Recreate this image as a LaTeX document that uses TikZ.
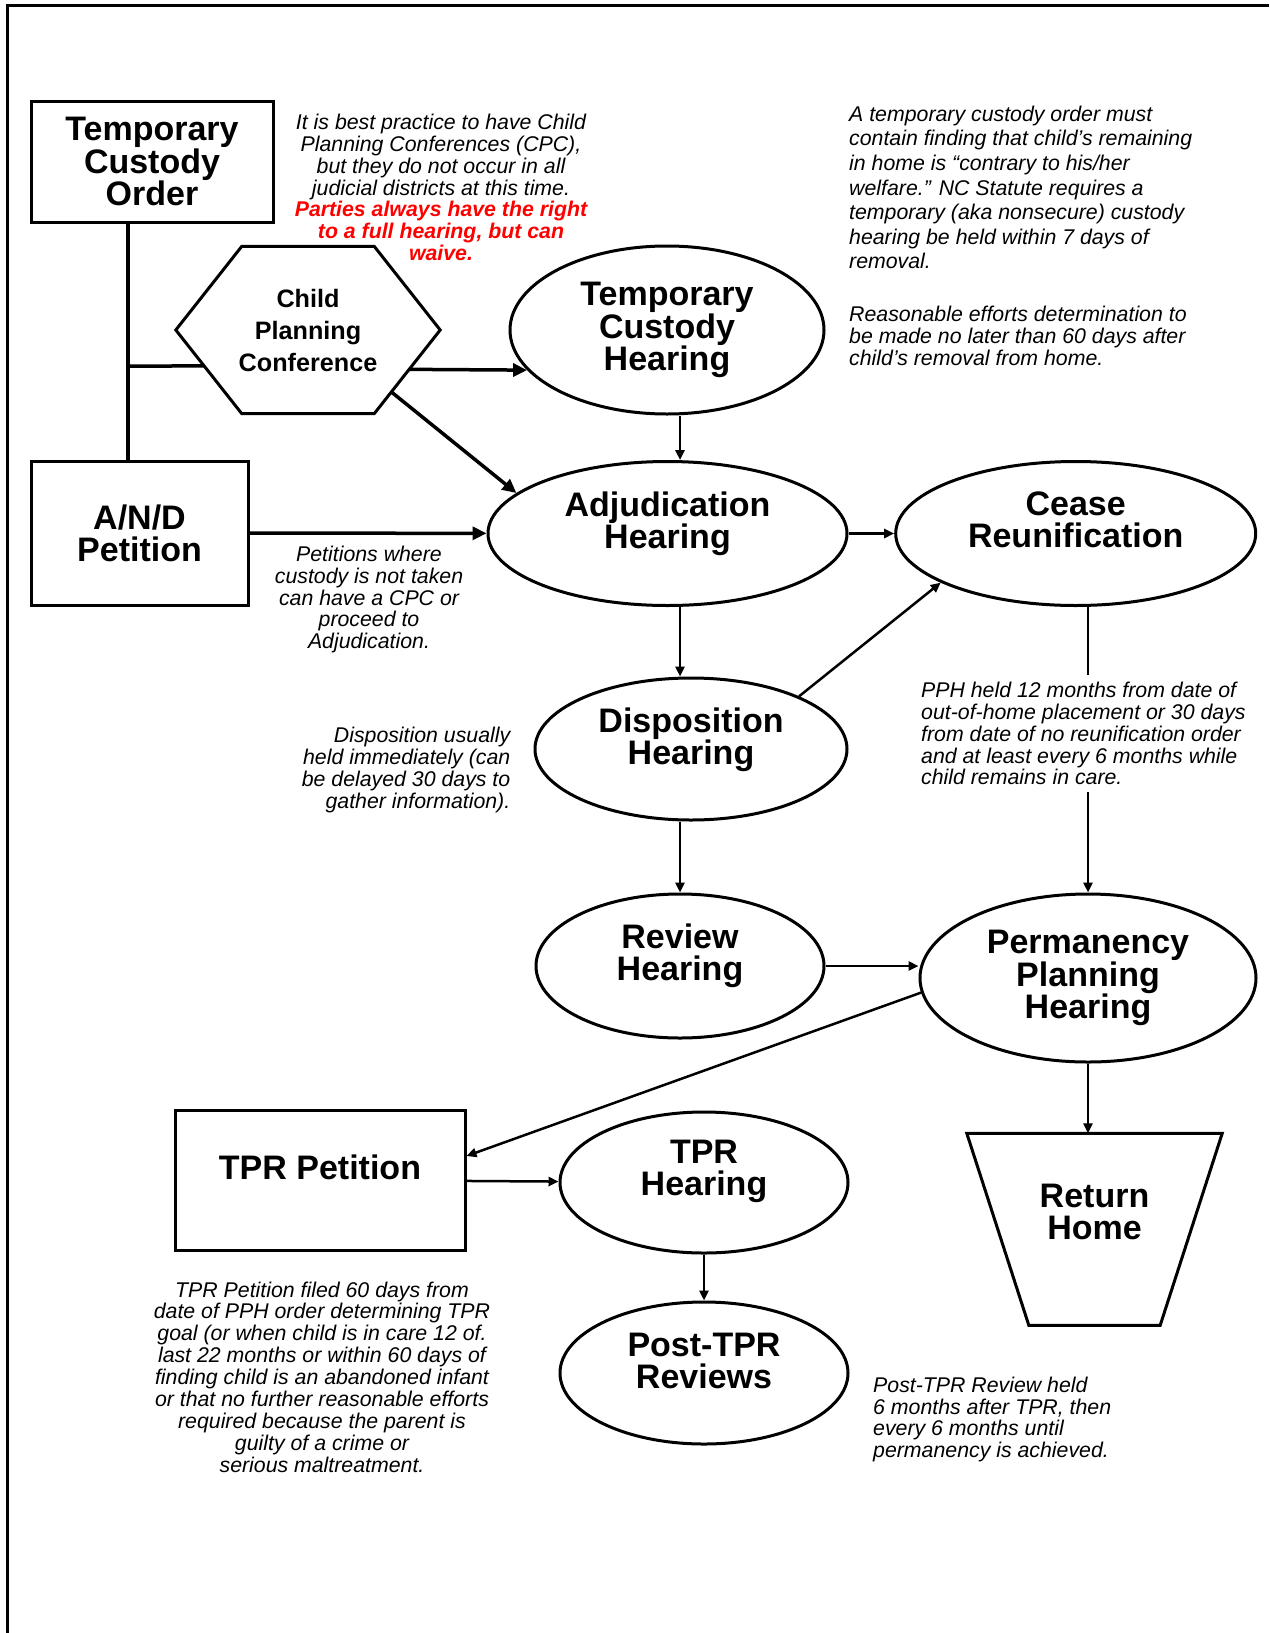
\documentclass[tikz,border=0pt]{standalone}
\usepackage{fontspec}
\setmainfont{Liberation Sans}
\usetikzlibrary{arrows.meta,calc,shapes.geometric}

\begin{document}
\begin{tikzpicture}[x=1pt,y=-1pt,
  shp/.style={draw,line width=3pt,inner sep=0pt},
  ttl/.style={align=center,font=\fontsize{34}{32.3}\selectfont\bfseries},
  box/.style={shp,ttl},
  oval/.style={shp,ttl,ellipse},
  note/.style={inner sep=0pt,font=\fontsize{21.3}{21.9}\selectfont\itshape},
  ln/.style={line width=2.5pt},
  arr/.style={line width=2.5pt,-{Triangle[length=10pt,width=9pt]}},
  bigarr/.style={line width=3.5pt,-{Triangle[length=14pt,width=13pt]}}]
\useasboundingbox (0,0) rectangle (1269,1633);
\draw[line width=3pt] (7,1633) -- (7,5) -- (1269,5);

% left column
\node[box,minimum width=242pt,minimum height=121pt] (tco) at (152,161.5) {Temporary\\Custody\\Order};
\node[inner sep=0pt,minimum width=264pt,minimum height=167pt,align=center,
  font=\fontsize{25.2}{32}\selectfont\bfseries] (cpc) at (308,330) {Child\\Planning\\Conference};
\node[box,minimum width=217pt,minimum height=144pt] (andp) at (139.5,533) {A/N/D\\Petition};
\node[box,minimum width=290pt,minimum height=140pt,label={[ttl,yshift=13pt]center:{TPR Petition}}] (tprp) at (320,1180) {};

% hearings
\node[oval,minimum width=314pt,minimum height=168pt] (tch) at (667,330) {Temporary\\Custody\\Hearing};
\node[oval,minimum width=359pt,minimum height=144pt,label={[ttl,yshift=10pt]center:{Adjudication\\Hearing}}] (adj) at (667.5,533.5) {};
\node[oval,minimum width=360pt,minimum height=144pt,label={[ttl,yshift=13.5pt]center:{Cease\\Reunification}}] (cease) at (1075.7,533.5) {};
\node[oval,minimum width=312pt,minimum height=142pt,label={[ttl,yshift=9.5pt]center:{Disposition\\Hearing}}] (disp) at (691,749) {};
\node[oval,minimum width=288pt,minimum height=144pt,label={[ttl,yshift=10.5pt]center:{Review\\Hearing}}] (rev) at (680,966) {};
\node[oval,minimum width=336pt,minimum height=168pt] (pph) at (1088,978) {Permanency\\Planning\\Hearing};
\node[oval,minimum width=288pt,minimum height=141pt,label={[ttl,yshift=11pt]center:{TPR\\Hearing}}] (tprh) at (704,1182.5) {};
\node[oval,minimum width=288pt,minimum height=142pt,label={[ttl,yshift=12pt]center:{Post-TPR\\Reviews}}] (post) at (704,1373) {};
\node[inner sep=0pt,minimum width=255pt,minimum height=191.5pt,label={[ttl,yshift=17pt]center:{Return\\Home}}] (home) at (1094.5,1229.3) {};

% hexagon and trapezoid
\draw[shp] (cpc.west) -- ([xshift=66pt]cpc.north west) -- ([xshift=-66pt]cpc.north east)
  -- (cpc.east) -- ([xshift=-66pt]cpc.south east) coordinate (cpcse)
  -- ([xshift=66pt]cpc.south west) coordinate (cpcsw) -- cycle;
\draw[shp] (home.north west) -- (home.north east) -- ([xshift=-62pt]home.south east)
  -- ([xshift=62pt]home.south west) -- cycle;

% notes
\node[note,align=center] (cpcnote) at (441,157) {It is best practice to have Child\\Planning Conferences (CPC),\\but they do not occur in all\\judicial districts at this time.};
\node[note,align=center,text=red,font=\fontsize{21.3}{21.9}\selectfont\bfseries\itshape] (cpcred) at (441,231) {Parties always have the right\\to a full hearing, but can\\waive.};
\node[note,align=left,anchor=west,font=\fontsize{21.3}{24.6}\selectfont\itshape] (tchnote) at (849,187.5) {A temporary custody order must\\contain finding that child’s remaining\\in home is “contrary to his/her\\welfare.” NC Statute requires a\\temporary (aka nonsecure) custody\\hearing be held within 7 days of\\removal.};
\node[note,align=left,anchor=west] (renote) at (849,335.5) {Reasonable efforts determination to\\be made no later than 60 days after\\child’s removal from home.};
\node[note,align=center] (andnote) at (369,599.5) {Petitions where\\custody is not taken\\can have a CPC or\\proceed to\\Adjudication.};
\node[note,align=right,anchor=east] (dispnote) at (510.5,770) {Disposition usually\\held immediately (can\\be delayed 30 days to\\gather information).};
\node[note,align=left,anchor=west,inner ysep=7pt] (pphnote) at (921,733.5) {PPH held 12 months from date of\\out-of-home placement or 30 days\\from date of no reunification order\\and at least every 6 months while\\child remains in care.};
\node[note,align=center] (tprnote) at (322,1377) {TPR Petition filed 60 days from\\date of PPH order determining TPR\\goal (or when child is in care 12 of.\\last 22 months or within 60 days of\\finding child is an abandoned infant\\or that no further reasonable efforts\\required because the parent is\\guilty of a crime or\\serious maltreatment.};
\node[note,align=left,anchor=west] (postnote) at (873,1419.5) {Post-TPR Review held\\6 months after TPR, then\\every 6 months until\\permanency is achieved.};

% connectors
\coordinate (jn) at (128,366);
\draw[line width=3.5pt] (tco.south -| jn) -- (andp.north -| jn);
\draw[line width=3.5pt] (jn) -- ($(cpc.west)!0.43!(cpcsw)$);
\draw[bigarr] ($(cpc.east)!0.47!(cpcse)$) -- (tch.196);
\draw[bigarr] ($(cpc.east)!0.74!(cpcse)$) -- (adj.165);
\draw[bigarr] (andp) -- (adj);
\draw[arr] (tch.south -| rev) -- (adj.north -| rev);
\draw[arr] (adj.south -| rev) -- (disp.north -| rev);
\draw[arr] (disp.south -| rev) -- (rev);
\draw[arr] (adj) -- (cease);
\draw[arr] (disp.26) -- (cease.200);
\draw[ln] (cease.south -| pph) -- (pphnote.north -| pph);
\draw[arr] (pphnote.south -| pph) -- (pph);
\draw[arr] (rev.east) -- (rev.east -| pph.west);
\draw[arr] (pph.185) -- ([yshift=24pt]tprp.east);
\draw[arr] (tprp) -- (tprh);
\draw[arr] (tprh) -- (post);
\draw[arr] (pph.south) -- (pph.south |- home.north);
\end{tikzpicture}
\end{document}
